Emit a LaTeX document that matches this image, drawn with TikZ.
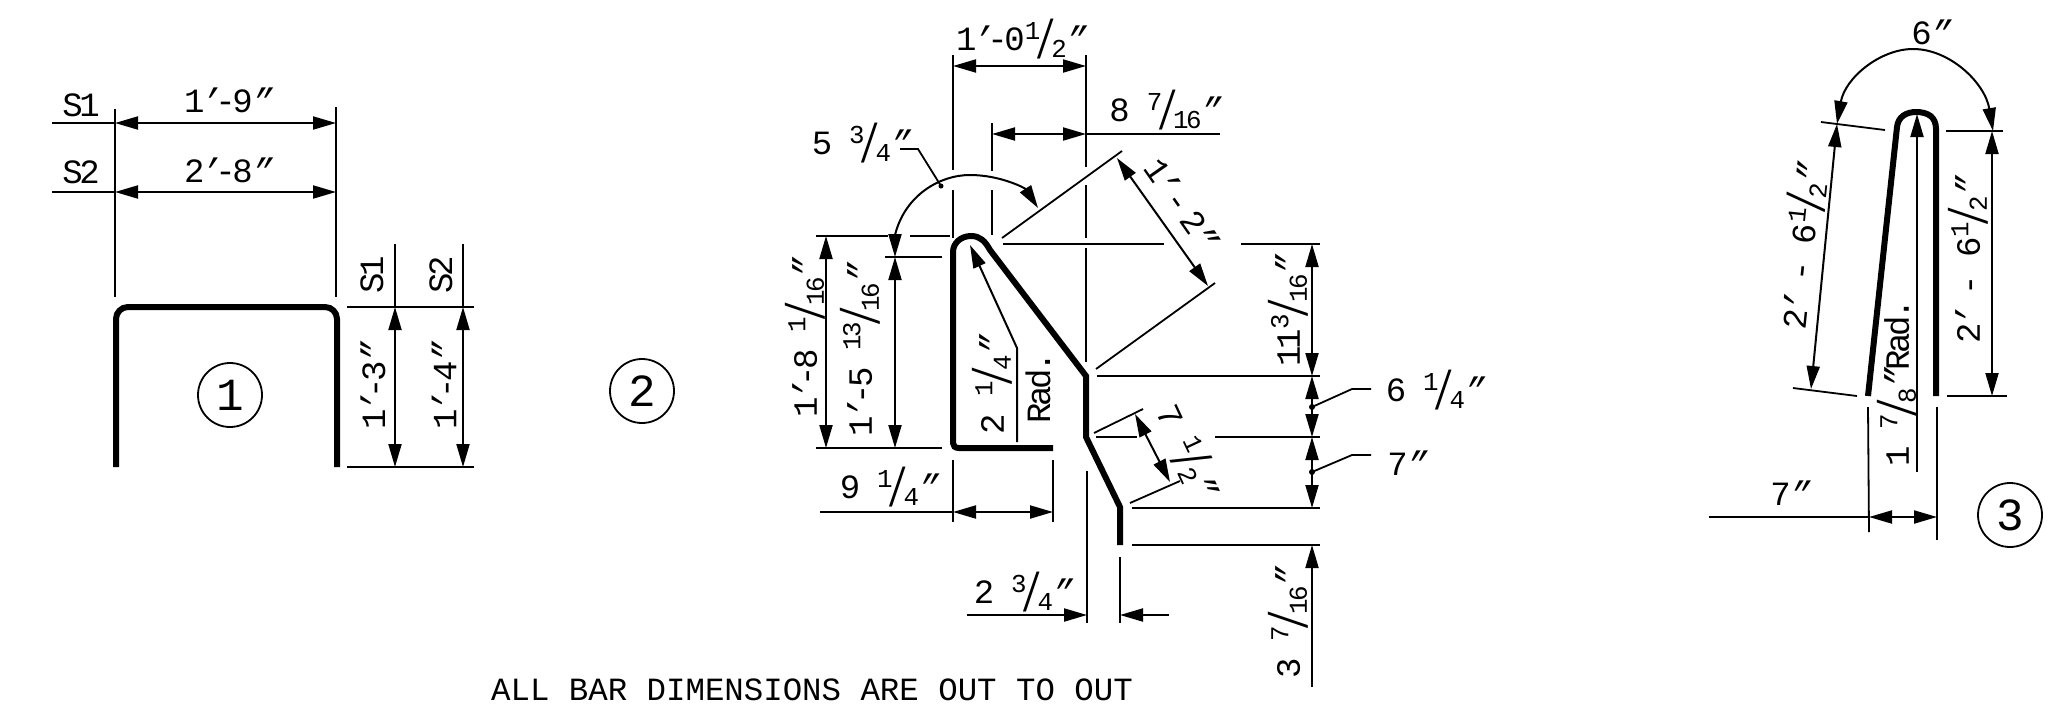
\documentclass[tikz,border=0pt]{standalone}
\usepackage{fontspec}
\usepackage{graphicx}
\setmainfont[LetterSpace=-10]{Liberation Mono}
\newfontfamily\notefont{Liberation Mono}
\usetikzlibrary{arrows.meta,positioning}

\newcommand{\frc}[2]{\raisebox{.34em}{\scalebox{.76}{#1}}\kern-.14em\raisebox{-.22em}{\scalebox{1}[1.6]{/}}\kern-.14em\raisebox{-.2em}{\scalebox{.76}{#2}}}
\newcommand{\inch}{\textit{"}}
\newcommand{\foot}{\kern-.1em\textit{'}\kern-.08em}

\tikzset{
    barline/.style={line width=6pt},
    extline/.style={line width=1.8pt},
    dimline/.style={line width=2pt, >={Triangle[length=23pt,width=13pt]}},
    dimtext/.style={inner sep=0pt, font=\fontsize{34}{36}\selectfont},
    barmark/.style={circle, draw, line width=1.8pt, minimum size=64pt, inner sep=0pt, font=\fontsize{46}{48}\selectfont}
}

\begin{document}
\begin{tikzpicture}[x=1pt,y=-1pt]
    \useasboundingbox[fill=white] (0,0) rectangle (2057,705);

    % first bar, with its heights and widths
    \draw[barline, rounded corners=12pt] (116,467) -- (116,307) -- (337,307) -- (337,467);
    \draw[extline] (115,109) -- (115,297);
    \draw[extline] (336,107) -- (336,297);
    \draw[extline] (52,123) -- (115,123);
    \draw[extline] (52,192) -- (115,192);
    \draw[dimline,<->] (115,123) -- (336,123);
    \draw[dimline,<->] (115,192) -- (336,192);
    \draw[extline] (347,307) -- (474,307);
    \draw[extline] (347,467) -- (474,467);
    \draw[extline] (395,244) -- (395,307);
    \draw[extline] (463,244) -- (463,307);
    \draw[dimline,<->] (395,307) -- (395,467);
    \draw[dimline,<->] (463,307) -- (463,467);
    \node[dimtext] (sonetop) at (81,105) {S1};
    \node[dimtext] (stwotop) at (81,172) {S2};
    \node[dimtext] (wone) at (227,100) {1\foot-9\inch};
    \node[dimtext] (wtwo) at (227,170) {2\foot-8\inch};
    \node[dimtext,rotate=90] (soneside) at (372,275) {S1};
    \node[dimtext,rotate=90] (stwoside) at (441,275) {S2};
    \node[dimtext,rotate=90] (hone) at (373,387) {1\foot-3\inch};
    \node[dimtext,rotate=90] (htwo) at (444,387) {1\foot-4\inch};
    \node[barmark] (markone) at (230,395) {1};

    % second bar
    \node[barmark] (marktwo) at (642,391) {2};
    \draw[barline] (1053,448) -- (959,448) .. controls (955,448) and (953,446) .. (953,443) -- (953,252)
        .. controls (953,243) and (961,236) .. (971,236) .. controls (980,236) and (985,241) .. (990,250)
        -- (1086,376) -- (1086,437) -- (1120,507) -- (1120,545);

    % vertical witness lines of the second bar
    \draw[extline] (953,55) -- (953,170);
    \draw[extline] (953,190) -- (953,238);
    \draw[extline] (992,123) -- (992,171);
    \draw[extline] (992,190) -- (992,235);
    \draw[extline] (1086,55) -- (1086,167);
    \draw[extline] (1086,185) -- (1086,238);
    \draw[extline] (1086,248) -- (1086,362);
    \draw[extline] (1087,471) -- (1087,623);
    \draw[extline] (1120,557) -- (1120,623);
    \draw[extline] (953,460) -- (953,522);
    \draw[extline] (1053,460) -- (1053,522);

    % top widths
    \draw[dimline,<->] (953,66) -- (1086,66);
    \draw[dimline,<->] (992,134) -- (1086,134);
    \draw[extline] (1086,134) -- (1220,134);
    \node[dimtext] (wtop) at (1020,39) {1\foot-0\frc{1}{2}\inch};
    \node[dimtext] (wnext) at (1164,110) {8 \frc{7}{16}\inch};

    % radius over the bend, with leader
    \draw[dimline,<->] (895,257) -- (895,235) .. controls (905,195) and (940,175) .. (970,175)
        .. controls (1000,175) and (1025,188) .. (1038,208);
    \draw[extline] (900,149) -- (918,149) -- (941,186);
    \fill (941,186) circle (2.5);
    \node[dimtext] (bendtext) at (860,143) {5 \frc{3}{4}\inch};

    % slanted leg and its witness lines
    \draw[extline] (1002,238) -- (1122,151);
    \draw[extline] (1096,369) -- (1215,283);
    \draw[dimline,<->] (1117,158) -- (1208,286);
    \node[dimtext,rotate=-55] (slantlong) at (1181,203) {1\foot\,-\,2\inch};
    \draw[extline] (1094,433) -- (1143,409);
    \draw[extline] (1130,503) -- (1180,481);
    \draw[dimline,<->] (1135,414) -- (1170,482);
    \node[dimtext,rotate=-65] (slantshort) at (1187,450) {7 \frc{1}{2}\inch};

    % left heights
    \draw[extline] (816,236) -- (888,236);
    \draw[extline] (910,236) -- (950,236);
    \draw[extline] (885,257) -- (942,257);
    \draw[extline] (816,448) -- (942,448);
    \draw[dimline,<->] (826,236) -- (826,448);
    \draw[dimline,<->] (895,257) -- (895,448);
    \node[dimtext,rotate=90] (hleft) at (805,339) {1\foot-8 \frc{1}{16}\inch};
    \node[dimtext,rotate=90] (hinner) at (860,351) {1\foot-5 \frc{13}{16}\inch};

    % inside radius of the hook
    \draw[dimline,<-] (970,245) -- (1017,348) -- (1017,442);
    \node[dimtext,rotate=90] (radtext) at (992,386) {2 \frc{1}{4}\inch};
    \node[dimtext,rotate=90] (radword) at (1038,388) {Rad.};

    % hook width and offset below
    \draw[extline] (820,512) -- (953,512);
    \draw[dimline,<->] (953,512) -- (1053,512);
    \node[dimtext] (hookw) at (888,487) {9 \frc{1}{4}\inch};
    \draw[dimline,->] (967,615) -- (1087,615);
    \draw[dimline,->] (1169,615) -- (1120,615);
    \node[dimtext] (offset) at (1022,592) {2 \frc{3}{4}\inch};

    % right heights
    \draw[extline] (1003,244) -- (1164,244);
    \draw[extline] (1241,244) -- (1320,244);
    \draw[extline] (1097,376) -- (1320,376);
    \draw[extline] (1096,437) -- (1137,437);
    \draw[extline] (1215,437) -- (1320,437);
    \draw[extline] (1132,508) -- (1320,508);
    \draw[extline] (1132,545) -- (1320,545);
    \draw[dimline,<->] (1312,244) -- (1312,376);
    \draw[dimline,<->] (1312,376) -- (1312,437);
    \draw[dimline,<->] (1312,437) -- (1312,508);
    \draw[dimline,->] (1312,687) -- (1312,545);
    \node[dimtext,rotate=90] (hupper) at (1288,312) {11\frc{3}{16}\inch};
    \node[dimtext,rotate=90] (hfoot) at (1288,624) {3 \frc{7}{16}\inch};

    % leaders on the right
    \draw[extline] (1312,407) -- (1352,389) -- (1371,389);
    \fill (1312,407) circle (3);
    \node[dimtext] (leadone) at (1434,390) {6 \frc{1}{4}\inch};
    \draw[extline] (1312,472) -- (1352,455) -- (1371,455);
    \fill (1312,472) circle (3);
    \node[dimtext] (leadtwo) at (1406,463) {7\inch};

    % third bar
    \draw[barline] (1868,396) -- (1897,127) .. controls (1898,117) and (1906,112) .. (1916,112)
        .. controls (1928,112) and (1936,117) .. (1936,129) -- (1936,396);
    \draw[extline] (1868,407) -- (1869,532);
    \draw[extline] (1937,407) -- (1937,540);
    \draw[extline] (1709,517) -- (1869,517);
    \draw[dimline,<->] (1869,517) -- (1937,517);
    \node[dimtext] (footw) at (1789,493) {7\inch};
    \draw[dimline,<-] (1917,114) -- (1917,472);
    \node[dimtext,rotate=90] (footrad) at (1897,383) {1 \frc{7}{8}\inch Rad.};
    \draw[dimline,<->] (1837,124) .. controls (1845,78) and (1880,49) .. (1913,49)
        .. controls (1950,49) and (1985,83) .. (1993,131);
    \node[dimtext] (toparc) at (1930,32) {6\inch};
    \draw[extline] (1821,122) -- (1885,130);
    \draw[extline] (1793,388) -- (1857,396);
    \draw[extline] (1946,131) -- (2003,131);
    \draw[extline] (1947,396) -- (2007,396);
    \draw[dimline,<->] (1837,124) -- (1811,389);
    \draw[dimline,<->] (1992,131) -- (1992,396);
    \node[dimtext,rotate=84] (legleft) at (1802,247) {2\foot\ - 6\frc{1}{2}\inch};
    \node[dimtext,rotate=90] (legright) at (1968,261) {2\foot\ - 6\frc{1}{2}\inch};
    \node[barmark] (markthree) at (2010,515) {3};

    % note under the bars
    \node[inner sep=0pt, font=\notefont\fontsize{32.4}{36}\selectfont] (note) at (812,690) {ALL BAR DIMENSIONS ARE OUT TO OUT};
\end{tikzpicture}
\end{document}
